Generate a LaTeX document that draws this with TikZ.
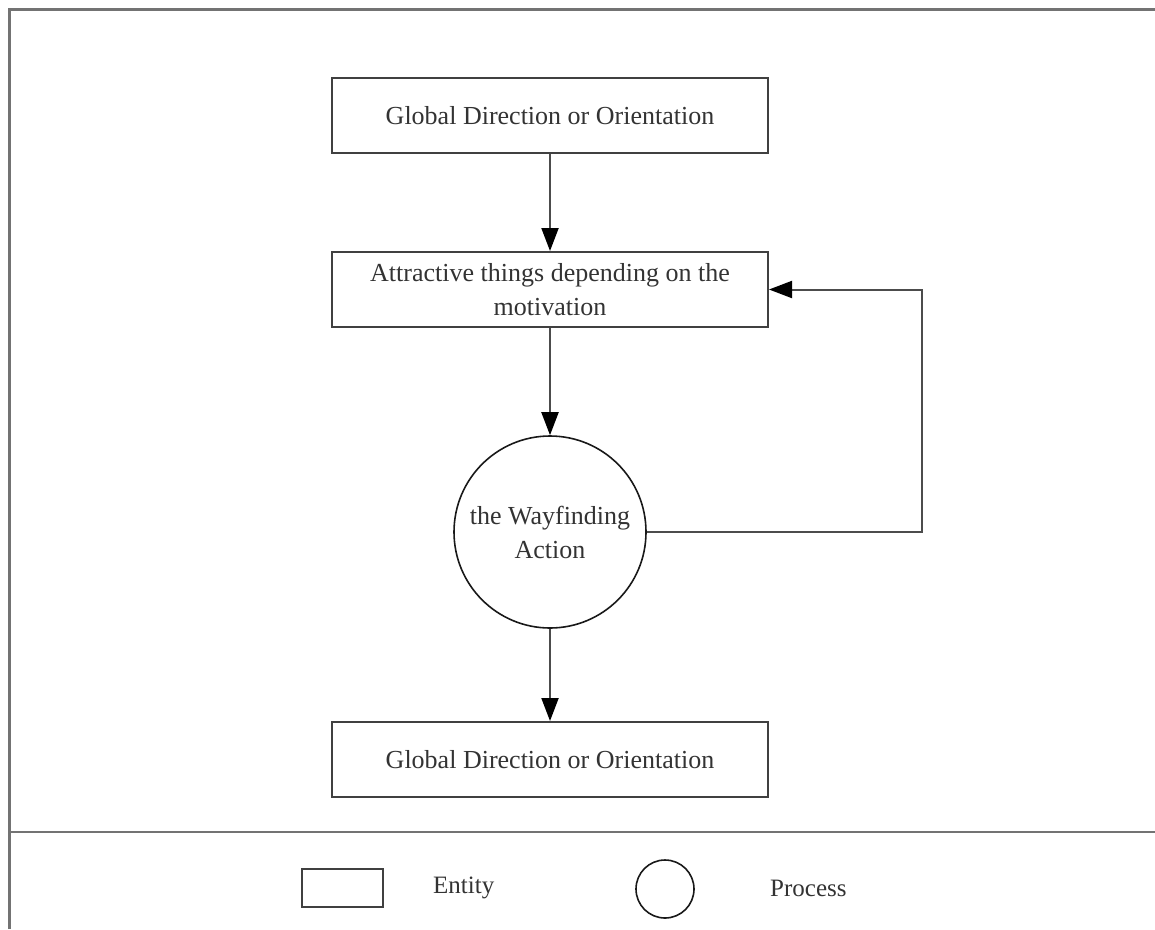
\documentclass[tikz,border=0pt]{standalone}
\usepackage{fontspec}
\setmainfont{Liberation Serif}
\usetikzlibrary{arrows.meta}
\begin{document}
\begin{tikzpicture}[x=1pt,y=-1pt,
  frame/.style={draw=black!55,line width=3pt},
  txt/.style={font=\fontsize{26}{34}\selectfont,text=black!80},
  entity/.style={txt,draw=black!75,line width=2pt,minimum width=436pt,minimum height=75pt,
    align=center,inner sep=0pt},
  process/.style={txt,draw=black!90,line width=1.6pt,circle,minimum size=192pt,
    align=center,inner sep=0pt},
  flow/.style={draw=black!70,line width=2pt,
    -{Triangle[length=23pt,width=17pt,color=black]}},
  lbl/.style={font=\fontsize{25}{30}\selectfont,text=black!80,anchor=west,inner sep=0pt}]
\useasboundingbox (0,0) rectangle (1155,929);
% outer frame and legend divider
\draw[frame] (9,929) -- (9,9) -- (1155,9);
\draw[frame,line width=2.5pt] (9,832) -- (1155,832);
% diagram nodes
\node[entity] (g1) at (550,115.5) {Global Direction or Orientation};
\node[entity] (at) at (550,289.5) {Attractive things depending on the\\motivation};
\node[process] (wf) at (550,532) {the Wayfinding\\Action};
\node[entity] (g2) at (550,759.5) {Global Direction or Orientation};
\coordinate (loop) at (922,0);
% connectors
\draw[flow] (g1) -- (at);
\draw[flow] (at) -- (wf);
\draw[flow] (wf) -- (g2);
\draw[flow] (wf.east) -- (wf.east -| loop) -- (loop |- at.east) -- (at.east);
% legend
\node[draw=black!75,line width=2pt,minimum width=81pt,minimum height=38pt,inner sep=0pt] (le) at (342.5,888) {};
\node[lbl] (lt) at (433,888) {Entity};
\node[draw=black!90,line width=1.6pt,circle,minimum size=58pt,inner sep=0pt] (lp) at (665,889) {};
\node[lbl] (pt) at (770,888) {Process};
\end{tikzpicture}
\end{document}
